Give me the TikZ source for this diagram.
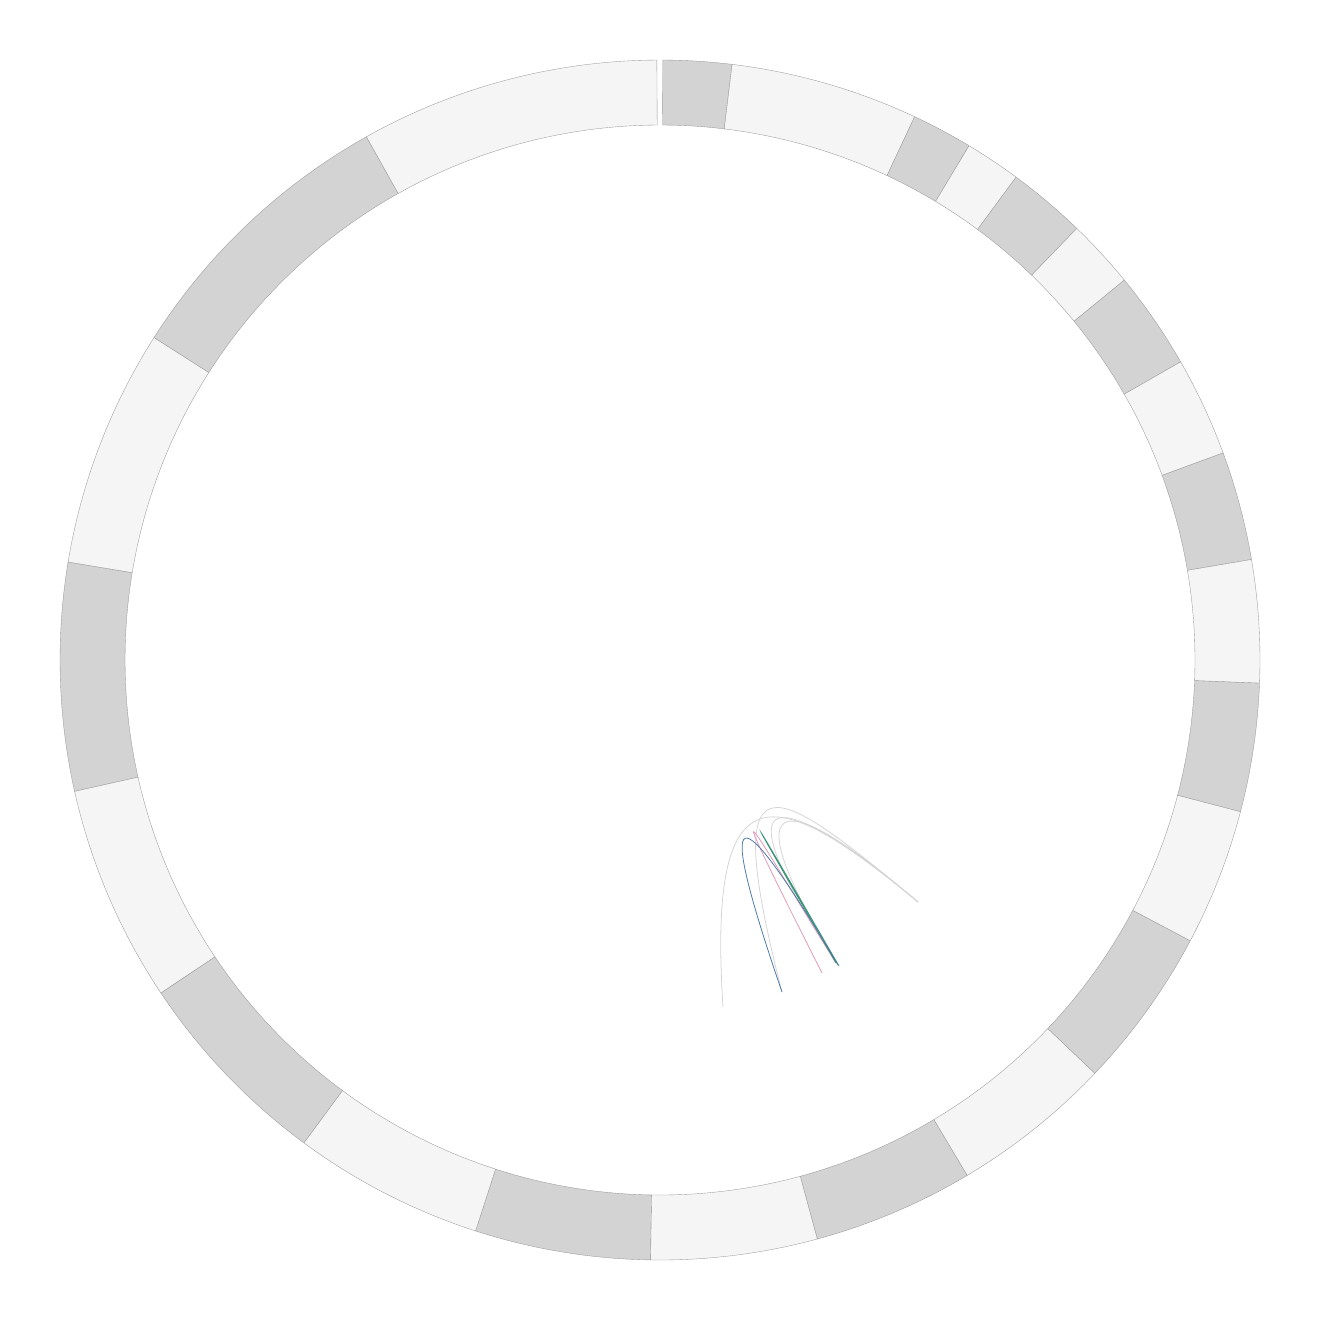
\documentclass[tikz,border=0pt]{standalone}
\usetikzlibrary{calc}
\definecolor{segdark}{HTML}{D3D3D3}
\definecolor{seglight}{HTML}{F5F5F5}
\definecolor{segline}{HTML}{999999}
\definecolor{linkgray}{HTML}{D4D4D4}
\definecolor{linkblue}{HTML}{4A78A8}
\definecolor{linkpink}{HTML}{DE96B4}
\definecolor{linkteal}{HTML}{3C9678}
\tikzset{
  ringline/.style={draw=segline, line width=0.5pt, line join=round},
  glink/.style={draw=linkgray, line width=1.1pt},
  clink/.style={line width=1.1pt},
}
\newcommand\ringsector[3]{%
  \filldraw[ringline, fill=#3] ($(C)+({#1-90}:600)$) arc[start angle={#1-90}, end angle={#2-90}, radius=600]
    -- ($(C)+({#2-90}:535)$) arc[start angle={#2-90}, end angle={#1-90}, radius=535] -- cycle;}
\begin{document}
\begin{tikzpicture}[x=0.05cm, y=-0.05cm]
\useasboundingbox (0,0) rectangle (1320,1320);
\coordinate (C) at (660,660);
% dark sectors
\foreach \a/\b in {0.27/6.9, 25.1/31.0, 36.4/44.0, 50.7/60.2, 69.8/80.35, 92.2/104.65, 117.9/133.55, 149.2/164.8, 180.9/197.9, 216.4/236.3, 257.35/279.4, 302.5/330.7}
  {\ringsector{\a}{\b}{segdark}}
% light sectors
\foreach \a/\b in {6.9/25.1, 31.0/36.4, 44.0/50.7, 60.2/69.8, 80.35/92.2, 104.65/117.9, 133.55/149.2, 164.8/180.9, 197.9/216.4, 236.3/257.35, 279.4/302.5, 330.7/359.7}
  {\ringsector{\a}{\b}{seglight}}
% link end points
\coordinate (pa) at (723,1007);
\coordinate (pb) at (782,992);
\coordinate (pc) at (822,973);
\coordinate (pd) at (836,963);
\coordinate (pe) at (838,965);
\coordinate (pf) at (839,966);
\coordinate (pt) at (918,902);
% gray links
\draw[glink] (pa) .. controls (707.5,767.5) and (771.7,780.4) .. (pt);
\draw[glink] (pb) .. controls (717,739.8) and (775.5,783.6) .. (pt);
\draw[glink] (pe) .. controls (711.5,773) and (779.4,786.8) .. (pt);
\draw[glink] (pd) .. controls (726,780) and (787.1,790) .. (pt);
% coloured links
\draw[clink, linkpink] (pc) .. controls (701.9,735.5) and (761.4,843.3) .. (pd);
\draw[clink, linkteal] (pd) .. controls (734,787.3) and (737,789.3) .. (pf);
\draw[clink, linkblue] (pb) .. controls (714,794) and (733,789) .. (pe);
\end{tikzpicture}
\end{document}
